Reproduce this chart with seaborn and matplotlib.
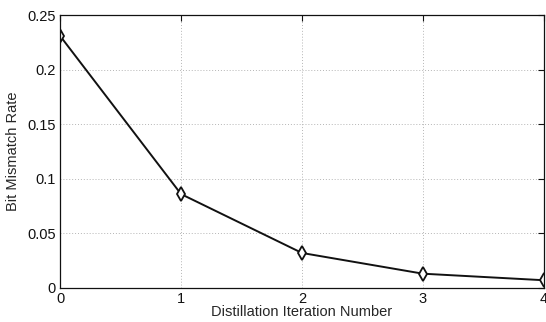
import matplotlib
matplotlib.use("Agg")
import matplotlib.pyplot as plt
import seaborn as sns
import pandas as pd

# data
iterations = [0, 1, 2, 3, 4]
mismatch = [0.231, 0.086, 0.032, 0.013, 0.007]
x_ticks = [0, 1, 2, 3, 4]
y_ticks = [0, 0.05, 0.1, 0.15, 0.2, 0.25]
y_labels = ["0", "0.05", "0.1", "0.15", "0.2", "0.25"]

df = pd.DataFrame({"iter": iterations, "rate": mismatch})

sns.set_style("white")
plt.rcParams["font.family"] = ["Liberation Sans", "DejaVu Sans"]

fig = plt.figure(figsize=(5.46, 3.22), dpi=100)
ax = fig.add_axes([0.110, 0.106, 0.886, 0.847])

sns.lineplot(data=df, x="iter", y="rate", ax=ax, color="#111111", linewidth=1.4,
             marker="d", markersize=7, markerfacecolor="white",
             markeredgecolor="#111111", markeredgewidth=1.3)

ax.set_xlim(0, 4)
ax.set_ylim(0, 0.25)
ax.set_xticks(x_ticks)
ax.set_yticks(y_ticks)
ax.set_yticklabels(y_labels)
ax.grid(True, linestyle=(0, (1, 2)), color="#b5b5b5", linewidth=0.7)
ax.tick_params(direction="in", length=4, width=0.8, top=True, right=True,
               labelsize=10.5, colors="#111111", pad=3)
for s in ax.spines.values():
    s.set_visible(True)
    s.set_color("#111111")
    s.set_linewidth(0.9)
ax.set_xlabel("Distillation Iteration Number", fontsize=10.5, labelpad=-1)
ax.set_ylabel("Bit Mismatch Rate", fontsize=10.5, labelpad=5)

fig.savefig("out.png", dpi=100)
